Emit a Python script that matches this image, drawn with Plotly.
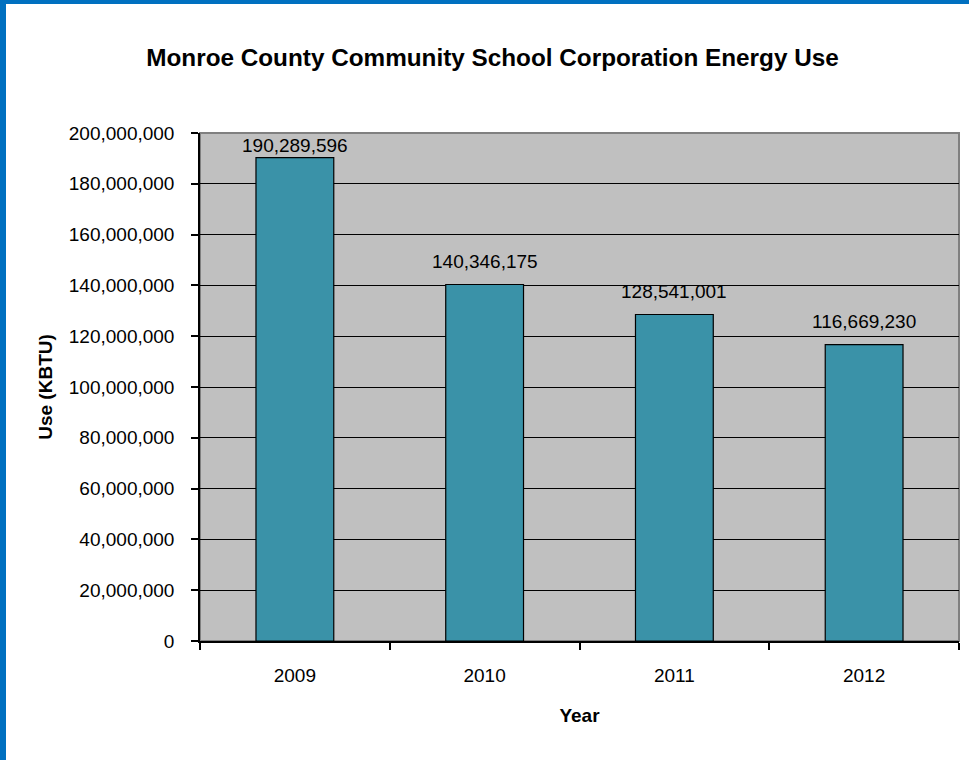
import plotly.graph_objects as go

years = ["2009", "2010", "2011", "2012"]
use_kbtu = [190289596, 140346175, 128541001, 116669230]
labels = [f"{v:,}" for v in use_kbtu]
label_lift = [0, 11, 11, 11]

W, H = 969, 760
L, R, T, B = 200, 10, 133, 119
pw, ph = W - L - R, H - T - B

def px_x(p):
    return (p - L) / pw

def px_y(p):
    return 1 - (p - T) / ph

fig = go.Figure(go.Bar(
    x=years, y=use_kbtu,
    marker=dict(color="#3A92A8", line=dict(color="black", width=1.2)),
    width=0.41,
))

# category axis: annotation x given as the category's index
for i, (v, lab, lift) in enumerate(zip(use_kbtu, labels, label_lift)):
    fig.add_annotation(x=i, y=v, text=lab, showarrow=False, yanchor="bottom",
                       yshift=lift, font=dict(size=19, color="black"))

fig.update_layout(
    width=W, height=H,
    margin=dict(l=L, r=R, t=T, b=B),
    paper_bgcolor="white", plot_bgcolor="#C0C0C0",
    font=dict(family="Liberation Sans, Arial", color="black", size=19),
    title=dict(text="<b>Monroe County Community School Corporation Energy Use</b>",
               x=492.5 / W, xanchor="center", y=1 - 57 / H, yanchor="middle",
               font=dict(size=24.3, color="black")),
    showlegend=False,
    xaxis=dict(
        type="category",
        showline=True, linecolor="black", linewidth=1.5,
        ticks="outside", tickson="boundaries", ticklen=7, tickcolor="black",
        tickwidth=1.5, showgrid=False,
        tickfont=dict(size=19), ticklabelstandoff=16,
        title=dict(text="<b>Year</b>", font=dict(size=19), standoff=24),
    ),
    yaxis=dict(
        range=[0, 200000000], dtick=20000000, tickformat=",d",
        showline=True, linecolor="black", linewidth=1.5,
        ticks="outside", ticklen=7, tickcolor="black", tickwidth=1.5,
        showgrid=True, gridcolor="black", gridwidth=1.2,
        zeroline=False, tickfont=dict(size=19),
        ticklabelstandoff=13,
        title=dict(text="<b>Use (KBTU)</b>", font=dict(size=19), standoff=11),
    ),
    shapes=[
        dict(type="rect", xref="paper", yref="paper", x0=0, x1=1, y0=0, y1=1,
             line=dict(color="#808080", width=2), layer="below"),
        dict(type="rect", xref="paper", yref="paper",
             x0=px_x(0), x1=px_x(6), y0=px_y(H), y1=px_y(0),
             fillcolor="#0070C0", line=dict(width=0)),
        dict(type="rect", xref="paper", yref="paper",
             x0=px_x(0), x1=px_x(W), y0=px_y(4), y1=px_y(0),
             fillcolor="#0070C0", line=dict(width=0)),
    ],
)

fig.write_html("out.html", config={"displayModeBar": False},
               post_script="document.body.style.margin='0px';")
